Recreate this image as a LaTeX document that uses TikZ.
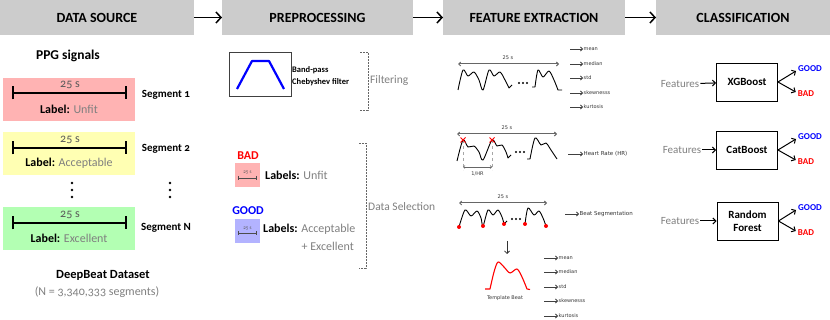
\documentclass[tikz,border=0pt]{standalone}
\usepackage{fontspec}
\setmainfont[Numbers=OldStyle]{Carlito}
\newfontfamily\tinyfont{DejaVu Sans}
\usetikzlibrary{arrows.meta,calc}
\definecolor{hdr}{HTML}{CCCCCC}
\definecolor{segred}{HTML}{FFB3B3}
\definecolor{segyel}{HTML}{FFFFB3}
\definecolor{seggrn}{HTML}{B3FFB3}
\definecolor{segblu}{HTML}{B3B3FF}
\definecolor{txtgray}{HTML}{7F7F7F}
\definecolor{goodblue}{HTML}{0000FF}
\definecolor{badred}{HTML}{FF0000}
\tikzset{
  hdrbox/.style={fill=hdr, inner sep=0pt, outer sep=0pt, font=\bfseries\fontsize{14}{16}\selectfont},
  hdrarrow/.style={-{Straight Barb[length=5pt,width=11pt]}, line width=1.5pt},
  segbox/.style={inner sep=0pt, minimum width=132pt, minimum height=43pt},
  segbar/.style={{Bar[width=13pt]}-{Bar[width=13pt]}, line width=1.6pt},
  segtxt/.style={font=\bfseries\fontsize{11}{13}\selectfont},
  lbltxt/.style={font=\fontsize{12}{14}\selectfont},
  graytxt/.style={text=txtgray, font=\fontsize{12}{14}\selectfont},
  tiny/.style={font=\tinyfont\fontsize{5}{6}\selectfont, text=black!80, inner sep=0.5pt},
  featarrow/.style={-{Straight Barb[length=2pt,width=4pt]}, line width=0.8pt, black!75},
  spanarrow/.style={{Straight Barb[length=2pt,width=4pt]}-{Straight Barb[length=2pt,width=4pt]}, line width=1pt, black!60},
  wave/.style={line width=0.9pt, line join=round},
  clsbox/.style={draw, line width=0.9pt, minimum width=61pt, minimum height=38pt, inner sep=1pt, align=center, font=\bfseries\fontsize{11}{13}\selectfont},
  clsarrow/.style={-{Straight Barb[length=3pt,width=6pt]}, line width=1pt},
  goodtxt/.style={text=goodblue, font=\bfseries\fontsize{9}{11}\selectfont, inner sep=0pt},
  badtxt/.style={text=badred, font=\bfseries\fontsize{9}{11}\selectfont, inner sep=0pt},
  feattxt/.style={text=txtgray, font=\fontsize{11}{13}\selectfont, inner sep=1pt},
  brack/.style={dashed, dash pattern=on 2pt off 1pt, black!60, line width=0.8pt},
}
\begin{document}
\begin{tikzpicture}[x=1pt,y=-1pt]
\useasboundingbox (0,0) rectangle (830,320);
% ---------- headers
\node[hdrbox, minimum width=194pt, minimum height=35pt] (h1) at (97,17.5) {DATA SOURCE};
\node[hdrbox, minimum width=191pt, minimum height=35pt] (h2) at (317.5,17.5) {PREPROCESSING};
\node[hdrbox, minimum width=182pt, minimum height=35pt] (h3) at (534,17.5) {FEATURE EXTRACTION};
\node[hdrbox, minimum width=174pt, minimum height=35pt] (h4) at (743,17.5) {CLASSIFICATION};
\draw[hdrarrow] (h1) -- (h2);
\draw[hdrarrow] (h2) -- (h3);
\draw[hdrarrow] (h3) -- (h4);

% ---------- data source
\node[font=\bfseries\fontsize{13.5}{15}\selectfont] (ppg) at (68,56) {PPG signals};

\node[segbox, fill=segred] (seg1) at (69,99.5) {};
\draw[segbar] (12,93) -- (127,93);
\node[graytxt, text=black!65] (t1) at (70,85) {25 s};
\node[lbltxt] (l1) at (69,109) {\textbf{Label:} \textcolor{txtgray}{Unfit}};
\node[segtxt] (s1) at (166,95) {Segment 1};

\node[segbox, fill=segyel] (seg2) at (69,153.5) {};
\draw[segbar] (12,148) -- (127,148);
\node[graytxt, text=black!65] (t2) at (70,139.5) {25 s};
\node[lbltxt] (l2) at (69,163.5) {\textbf{Label:} \textcolor{txtgray}{Acceptable}};
\node[segtxt] (s2) at (166,149) {Segment 2};

\foreach \xx in {72,170} {
  \foreach \yy in {183,190,197} \fill (\xx,\yy) circle (1.3pt);
}

\node[segbox, fill=seggrn] (seg3) at (69,228.5) {};
\draw[segbar] (12,223) -- (127,223);
\node[graytxt, text=black!65] (t3) at (70,214.5) {25 s};
\node[lbltxt] (l3) at (69,238.5) {\textbf{Label:} \textcolor{txtgray}{Excellent}};
\node[segtxt] (s3) at (166,228) {Segment N};

\node[font=\bfseries\fontsize{12.5}{14}\selectfont] (db) at (103,275) {DeepBeat Dataset};
\node[graytxt] (dbn) at (97,292) {(N = 3,340,333 segments)};

% ---------- preprocessing
\node[draw=black!75, line width=1pt, minimum width=62pt, minimum height=44pt, inner sep=0pt] (filt) at (260,75) {};
\draw[goodblue, line width=2.2pt, line join=round] (237,89) -- (252,61) -- (269,61) -- (284,89);
\node[anchor=west, align=left, inner sep=0pt, font=\bfseries\fontsize{8.5}{12}\selectfont] (bp) at (292,76) {Band-pass\\Chebyshev filter};
\draw[brack] (360,52) -- (368,52) -- (368,110) -- (360,110);
\node[anchor=west, graytxt, inner sep=1pt, font=\fontsize{11.5}{13}\selectfont] (filtl) at (369,80) {Filtering};

\node[text=badred, font=\bfseries\fontsize{12}{14}\selectfont] (bad0) at (248,156) {BAD};
\node[fill=segred, minimum width=25pt, minimum height=24pt, inner sep=0pt] (badbox) at (247.5,175) {};
\draw[{Bar[width=4pt]}-{Bar[width=4pt]}, line width=0.6pt, black!70] (238,178) -- (257,178);
\node[font=\fontsize{5}{6}\selectfont, text=black!65, inner sep=0pt] (bt) at (247.5,172.5) {25 s};
\node[anchor=west, lbltxt, inner sep=0pt] (badl) at (265,175) {\textbf{Labels:} \textcolor{txtgray}{Unfit}};

\node[text=goodblue, font=\bfseries\fontsize{12}{14}\selectfont] (good0) at (248,211) {GOOD};
\node[fill=segblu, minimum width=25pt, minimum height=24pt, inner sep=0pt] (goodbox) at (247.5,231) {};
\draw[{Bar[width=4pt]}-{Bar[width=4pt]}, line width=0.6pt, black!70] (238,233) -- (257,233);
\node[font=\fontsize{5}{6}\selectfont, text=black!65, inner sep=0pt] (gt) at (247.5,228) {25 s};
\node[anchor=west, lbltxt, inner sep=0pt] (goodl) at (263,229) {\textbf{Labels:} \textcolor{txtgray}{Acceptable}};
\node[anchor=east, graytxt, inner sep=0pt] (goodl2) at (354,246) {+ Excellent};

\draw[brack] (359,143) -- (366,143) -- (366,268) -- (359,268);
\node[anchor=west, graytxt, inner sep=1pt, font=\fontsize{11.5}{13}\selectfont] (dsel) at (367,207) {Data Selection};

% ---------- feature extraction row 1
\coordinate (r1a) at (458,64); \coordinate (r1b) at (559,64);
\draw[spanarrow] (r1a) -- (r1b);
\node[tiny] (r1s) at (508,58) {25 s};
\draw[wave] plot[smooth, tension=0.5] coordinates {(458,90) (463,70) (468,76) (474,72) (479,80) (483,90) (489,70) (494,76) (500,72) (505,80) (509,88)} -- (512,85);
\foreach \xx in {519,523,527} \fill (\xx,83) circle (1.2pt);
\draw[wave] (532,87) -- plot[smooth, tension=0.5] coordinates {(535,87) (538,70) (543,77) (549,71) (554,80) (558,90)} -- (562,90);

\foreach \nm/\yy/\tx in {fa/49/mean, fb/64/median, fc/78/std, fd/93/skewnesss, fe/107/kurtosis} {
  \node[tiny, anchor=west] (\nm) at (583,\yy) {\tx};
  \draw[featarrow] ($(\nm.west)+(-13,0)$) -- (\nm.west);
}

% ---------- row 2
\coordinate (r2a) at (457,134); \coordinate (r2b) at (557,134);
\draw[spanarrow] (r2a) -- (r2b);
\node[tiny] (r2s) at (507,128) {25 s};
\draw[wave] plot[smooth, tension=0.5] coordinates {(457,161) (463,140) (468,147) (474,146) (479,152) (483,160) (492,140) (497,146) (502,145) (506,152) (508,158)} -- (511,155);
\foreach \xx in {516,520,524} \fill (\xx,152) circle (1.2pt);
\draw[wave] (527,159) -- plot[smooth, tension=0.5] coordinates {(530,159) (535,138) (541,145) (546,143) (551,150) (557,159)};
\coordinate (p1) at (463,140); \coordinate (p2) at (492,140);
\draw[dashed, black!35, line width=0.6pt] (p1) -- (463,170);
\draw[dashed, black!35, line width=0.6pt] (p2) -- (492,170);
\foreach \pp in {p1,p2} {
  \draw[badred, line width=1pt] ($(\pp)+(-2.5,-2.5)$) -- ($(\pp)+(2.5,2.5)$);
  \draw[badred, line width=1pt] ($(\pp)+(-2.5,2.5)$) -- ($(\pp)+(2.5,-2.5)$);
}
\coordinate (hr1) at (463,167); \coordinate (hr2) at (492,167);
\draw[{Straight Barb[length=1.5pt,width=3pt]}-{Straight Barb[length=1.5pt,width=3pt]}, line width=0.7pt, black!60] (hr1) -- (hr2);
\node[tiny] (hrl) at (477.5,174) {1/HR};
\node[tiny, anchor=west, font=\tinyfont\fontsize{5.5}{6}\selectfont] (hr) at (583,154) {Heart Rate (HR)};
\draw[featarrow] ($(hr.west)+(-15,0)$) -- (hr.west);

% ---------- row 3
\coordinate (r3a) at (459,203); \coordinate (r3b) at (547,203);
\draw[spanarrow] (r3a) -- (r3b);
\node[tiny] (r3s) at (503,197) {25 s};
\draw[wave] plot[smooth, tension=0.5] coordinates {(459,227) (465,210) (471,216) (477,211) (481,218) (483,226) (488,210) (493,215) (498,210) (502,217) (504,224)} -- (507,221);
\foreach \xx in {512,516,520} \fill (\xx,219) circle (1.2pt);
\draw[wave] plot[smooth, tension=0.5] coordinates {(525,224) (528,208) (534,215) (539,211) (543,218) (546,226)};
\foreach \xx/\yy in {459/227, 483/226, 504/224, 525/224, 546/226} \fill[badred] (\xx,\yy) circle (2pt);
\node[tiny, anchor=west, font=\tinyfont\fontsize{5.5}{6}\selectfont] (bs) at (579,214) {Beat Segmentation};
\draw[featarrow] ($(bs.west)+(-14,0)$) -- (bs.west);

\coordinate (dn1) at (507,241); \coordinate (dn2) at (507,254);
\draw[-{Straight Barb[length=2.5pt,width=5pt]}, line width=0.8pt, black!80] (dn1) -- (dn2);
\draw[badred, line width=1.1pt, line join=round] (485,289) -- (490,289) -- plot[smooth, tension=0.5] coordinates {(490,289) (494,272) (498,262) (504,267) (510,273) (517,269) (522,277) (527,289)} -- (530,289.5);
\node[tiny] (tb) at (505,298) {Template Beat};

\foreach \nm/\yy/\tx in {ga/258/mean, gb/272/median, gc/287/std, gd/301/skewnesss, ge/316/kurtosis} {
  \node[tiny, anchor=west] (\nm) at (558,\yy) {\tx};
  \draw[featarrow] ($(\nm.west)+(-14,0)$) -- (\nm.west);
}

% ---------- classification
\node[clsbox] (xgb) at (747,82) {XGBoost};
\node[clsbox] (cat) at (747,150) {CatBoost};
\node[clsbox] (rf) at (747.5,221) {Random\\Forest};

\node[feattxt] (f1) at (680,84) {Features};
\node[feattxt] (f2) at (682,150) {Features};
\node[feattxt] (f3) at (680,221) {Features};
\draw[clsarrow] (f1) -- (xgb);
\draw[clsarrow] (f2) -- (cat);
\draw[clsarrow] (f3) -- (rf);

\node[goodtxt] (g1) at (810,69) {GOOD};
\node[badtxt] (b1) at (806,94) {BAD};
\node[goodtxt] (g2) at (810,137) {GOOD};
\node[badtxt] (b2) at (806,162) {BAD};
\node[goodtxt] (g3) at (810,208) {GOOD};
\node[badtxt] (b3) at (806,233) {BAD};
\foreach \bx/\g/\b in {xgb/g1/b1, cat/g2/b2, rf/g3/b3} {
  \draw[clsarrow] (\bx.east) -- ($(\g.west)+(-2,2)$);
  \draw[clsarrow] (\bx.east) -- ($(\b.west)+(-2,-2)$);
}
\end{tikzpicture}
\end{document}
